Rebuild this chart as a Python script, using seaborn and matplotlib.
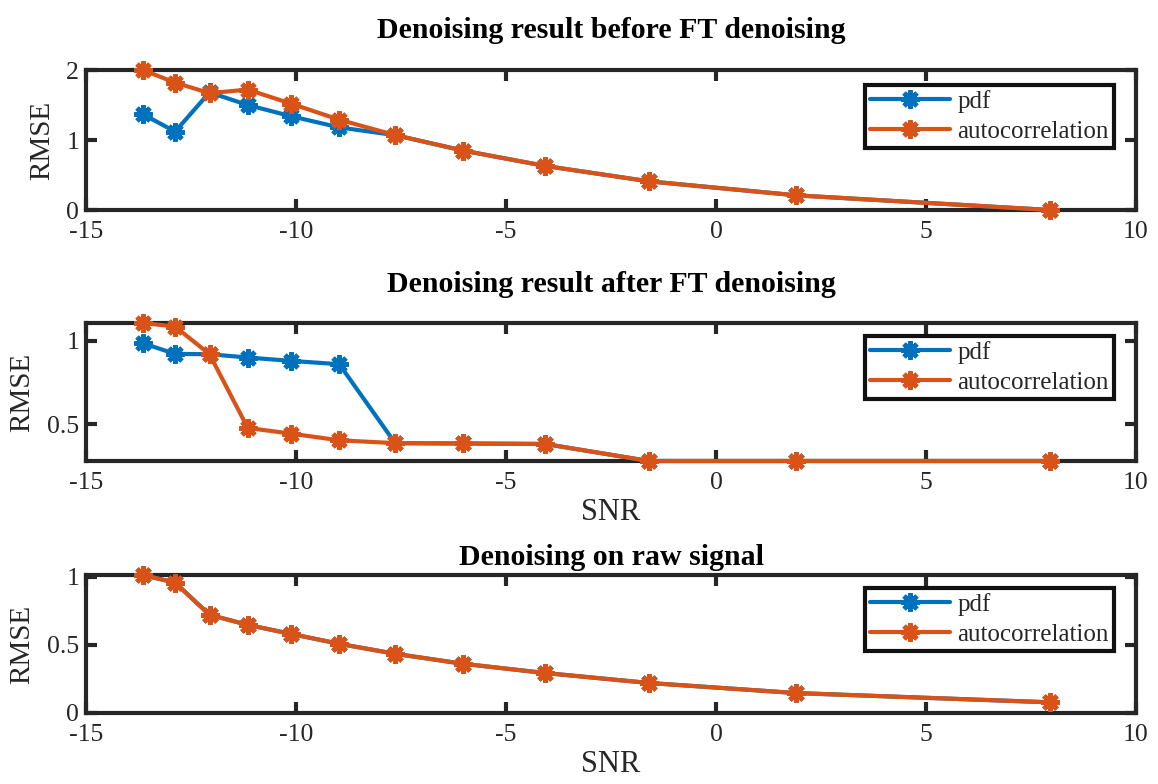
import numpy as np
import pandas as pd
import seaborn as sns
import matplotlib.pyplot as plt
from matplotlib.ticker import FormatStrFormatter


# SNR values shared by all three panels
snr = [-13.65, -12.88, -12.06, -11.15, -10.12, -8.97, -7.64, -6.03,
       -4.07, -1.60, 1.91, 7.96]

# Denoising result before FT denoising
pdf_before = [1.37, 1.12, 1.68, 1.50, 1.34, 1.18, 1.07, 0.85,
              0.63, 0.41, 0.21, 0.0]
acf_before = [2.0, 1.82, 1.67, 1.72, 1.52, 1.29, 1.07, 0.85,
              0.63, 0.41, 0.21, 0.0]

# Denoising result after FT denoising
pdf_after = [0.986, 0.922, 0.920, 0.900, 0.880, 0.860, 0.387, 0.385,
             0.382, 0.280, 0.280, 0.280]
acf_after = [1.107, 1.086, 0.920, 0.478, 0.444, 0.404, 0.387, 0.385,
             0.382, 0.280, 0.280, 0.280]

# Denoising on raw signal
pdf_raw = [1.012, 0.956, 0.720, 0.646, 0.580, 0.507, 0.434, 0.361,
           0.293, 0.220, 0.146, 0.078]
acf_raw = [1.012, 0.956, 0.720, 0.646, 0.580, 0.507, 0.434, 0.361,
           0.293, 0.220, 0.146, 0.078]

titles = ['Denoising result before FT denoising',
          'Denoising result after FT denoising',
          'Denoising on raw signal']
ylims = [(0, 2), (0.28, 1.107), (0, 1.012)]
yticks = [[0, 1, 2], [0.5, 1], [0, 0.5, 1]]
xticks = [-15, -10, -5, 0, 5, 10]

BLUE = '#0072BD'
ORANGE = '#D95319'
FRAME = '#262626'

sns.set_theme(style='white')
plt.rcParams['font.family'] = ['Liberation Serif', 'DejaVu Serif']
plt.rcParams['axes.unicode_minus'] = False


def drawPanel(ax, y_pdf, y_acf, title, ylim, yt, show_xlabel, title_pad,
              legend_y):
    for vals, name, col in [(y_pdf, 'pdf', BLUE),
                            (y_acf, 'autocorrelation', ORANGE)]:
        df = pd.DataFrame({'SNR': snr, 'RMSE': vals})
        sns.lineplot(
            x='SNR', y='RMSE', data=df, ax=ax, color=col, label=name,
            marker=(8, 2, 0), markersize=13, markeredgewidth=3.4,
            markeredgecolor=col, markerfacecolor=col, linewidth=3,
            clip_on=False)

    ax.set_xlim(-15, 10)
    ax.set_ylim(*ylim)
    ax.set_xticks(xticks)
    ax.set_yticks(yt)
    ax.yaxis.set_major_formatter(FormatStrFormatter('%g'))
    ax.tick_params(direction='in', length=8, width=3, colors=FRAME,
                   labelsize=18.5, labelcolor='#262626',
                   top=True, right=True, left=True, bottom=True)
    ax.tick_params(axis='x', pad=8)
    ax.tick_params(axis='y', pad=5)
    for sp in ax.spines.values():
        sp.set_linewidth(3)
        sp.set_color(FRAME)
        sp.set_zorder(1)

    ax.set_title(title, fontsize=21.5, fontweight='bold', pad=title_pad,
                 color='black')
    ax.set_ylabel('RMSE', fontsize=21, color='#262626')
    if show_xlabel:
        ax.set_xlabel('SNR', fontsize=22, color='#262626', labelpad=3)
    else:
        ax.set_xlabel('')

    leg = ax.legend(loc='upper right', bbox_to_anchor=(0.979, legend_y),
                    borderaxespad=0, fontsize=18, fancybox=False,
                    framealpha=1, edgecolor='#111111', handlelength=3.2,
                    handletextpad=0.3, borderpad=0.2, labelspacing=0.3)
    leg.get_frame().set_linewidth(3)
    leg.set_zorder(5)


fig = plt.figure(figsize=(11.58, 7.84), dpi=100)
ax1 = fig.add_axes([0.0743, 0.7321, 0.9067, 0.1786])
ax2 = fig.add_axes([0.0743, 0.4120, 0.9067, 0.1760])
ax3 = fig.add_axes([0.0743, 0.0906, 0.9067, 0.1760])

drawPanel(ax1, pdf_before, acf_before, titles[0], ylims[0], yticks[0],
          False, 23, 0.893)
drawPanel(ax2, pdf_after, acf_after, titles[1], ylims[1], yticks[1],
          True, 22, 0.906)
drawPanel(ax3, pdf_raw, acf_raw, titles[2], ylims[2], yticks[2],
          True, 7, 0.906)

# RMSE labels sit at fixed offsets like in the original figure
ax1.yaxis.set_label_coords(-0.0295, 0.5)
ax2.yaxis.set_label_coords(-0.0486, 0.5)
ax3.yaxis.set_label_coords(-0.0486, 0.5)

plt.savefig('out.png', dpi=100)
